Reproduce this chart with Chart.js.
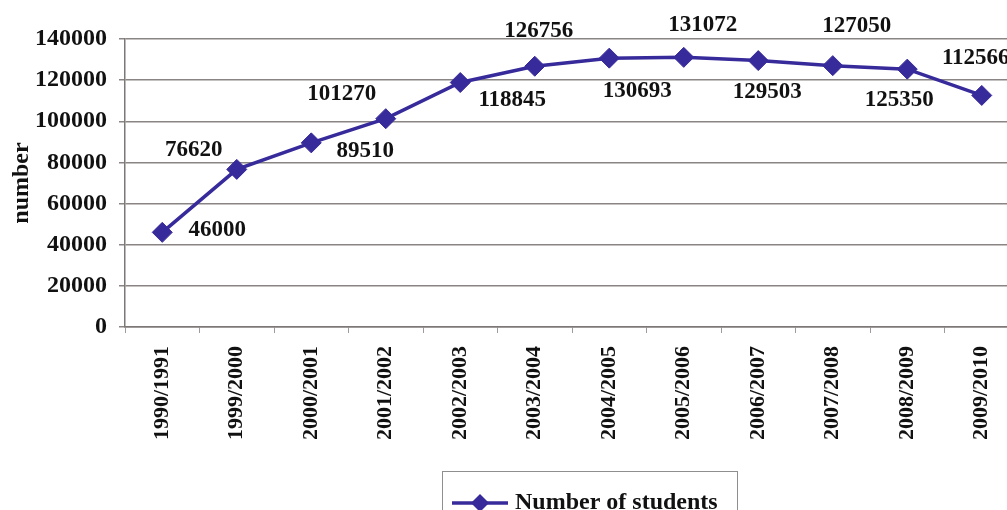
<!DOCTYPE html>
<html>
<head>
<meta charset="utf-8">
<script src="https://cdn.jsdelivr.net/npm/chart.js@4.4.1/dist/chart.umd.min.js"></script>
<style>
  html, body { margin: 0; padding: 0; background: #ffffff; overflow: hidden; }
  #wrap { position: relative; width: 1032px; height: 510px; }
</style>
</head>
<body>
<div id="wrap"><canvas id="chart"></canvas></div>
<script>
// School years and enrolled students
const years = ['1990/1991', '1999/2000', '2000/2001', '2001/2002', '2002/2003', '2003/2004',
               '2004/2005', '2005/2006', '2006/2007', '2007/2008', '2008/2009', '2009/2010'];
const students = [46000, 76620, 89510, 101270, 118845, 126756, 130693, 131072, 129503, 127050, 125350, 112566];
const yTickValues = [0, 20000, 40000, 60000, 80000, 100000, 120000, 140000];
const seriesName = 'Number of students';
const yAxisTitle = 'number';

// Where each value label sits relative to its point (dx, dy in px)
const labelOffsets = [[55, -2], [-43, -19], [54, 8], [-44, -25], [52, 18], [4, -35],
                      [28, 33], [19, -32], [9, 31], [24, -40], [-8, 31], [-6, -37]];

const SERIF = '"Liberation Serif", "Times New Roman", serif';
const LINE_COLOR = '#372a9a';
const GRID_COLOR = '#8a8484';
const TEXT_COLOR = '#111111';

const valueLabels = {
  id: 'valueLabels',
  afterDatasetsDraw(chart) {
    const ctx = chart.ctx;
    const meta = chart.getDatasetMeta(0);
    const values = chart.data.datasets[0].data;
    ctx.save();
    ctx.font = 'bold 23px ' + SERIF;
    ctx.fillStyle = TEXT_COLOR;
    ctx.textAlign = 'center';
    ctx.textBaseline = 'middle';
    meta.data.forEach((pt, i) => {
      const [dx, dy] = labelOffsets[i];
      ctx.fillText(String(values[i]), pt.x + dx, pt.y + dy);
    });
    ctx.restore();
  }
};

const boxedLegend = {
  id: 'boxedLegend',
  afterDraw(chart) {
    const ctx = chart.ctx;
    const ds = chart.data.datasets[0];
    ctx.save();
    ctx.strokeStyle = '#8f8f8f';
    ctx.lineWidth = 1;
    ctx.strokeRect(442.5, 471.5, 295, 60);
    const cy = 503;
    ctx.strokeStyle = ds.borderColor;
    ctx.lineWidth = 3.5;
    ctx.beginPath();
    ctx.moveTo(452, cy);
    ctx.lineTo(508, cy);
    ctx.stroke();
    ctx.fillStyle = ds.backgroundColor;
    const r = 9, cx = 480;
    ctx.beginPath();
    ctx.moveTo(cx - r, cy); ctx.lineTo(cx, cy - r); ctx.lineTo(cx + r, cy); ctx.lineTo(cx, cy + r);
    ctx.closePath();
    ctx.fill();
    ctx.font = 'bold 24px ' + SERIF;
    ctx.fillStyle = TEXT_COLOR;
    ctx.textAlign = 'left';
    ctx.textBaseline = 'middle';
    ctx.fillText(ds.label, 515, cy);
    ctx.restore();
  }
};

new Chart(document.getElementById('chart'), {
  type: 'line',
  data: {
    labels: years,
    datasets: [{
      label: seriesName,
      data: students,
      borderColor: LINE_COLOR,
      backgroundColor: LINE_COLOR,
      borderWidth: 3.5,
      pointStyle: 'rectRot',
      pointRadius: 10,
      pointBorderWidth: 1,
      pointBackgroundColor: LINE_COLOR,
      pointBorderColor: LINE_COLOR,
      tension: 0
    }]
  },
  options: {
    responsive: true,
    maintainAspectRatio: false,
    animation: false,
    layout: { padding: { left: 0, right: 13, top: 39, bottom: 0 } },
    plugins: { legend: { display: false }, tooltip: { enabled: false } },
    scales: {
      x: {
        offset: true,
        ticks: {
          minRotation: 90, maxRotation: 90, autoSkip: false, padding: 13,
          color: TEXT_COLOR,
          font: { family: SERIF, size: 22, weight: 'bold' }
        },
        grid: { display: true, drawOnChartArea: false, offset: true, tickLength: 6, color: '#a09a9a', lineWidth: 1 },
        border: { color: '#7d7777', width: 1.5 },
        afterFit(scale) { scale.height = 183; }
      },
      y: {
        min: 0, max: 140000,
        afterBuildTicks(scale) { scale.ticks = yTickValues.map(v => ({ value: v })); },
        ticks: {
          padding: 12, color: TEXT_COLOR,
          font: { family: SERIF, size: 24, weight: 'bold' },
          callback: v => String(v)
        },
        grid: { color: GRID_COLOR, lineWidth: 1.5, tickLength: 6, tickColor: GRID_COLOR },
        border: { color: '#7d7777', width: 1.5 },
        title: {
          display: true, text: yAxisTitle, color: TEXT_COLOR,
          font: { family: SERIF, size: 24, weight: 'bold' },
          padding: { top: 7, bottom: 0 }
        },
        afterFit(scale) { scale.width = 125; }
      }
    }
  },
  plugins: [valueLabels, boxedLegend]
});
</script>
</body>
</html>
